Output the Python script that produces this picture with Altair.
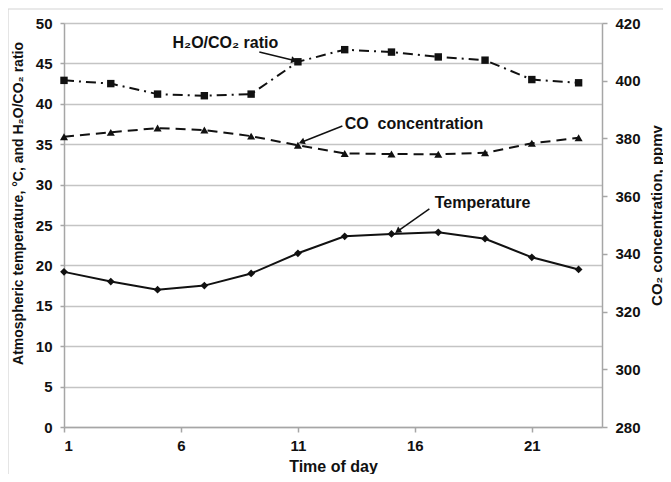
import math
import altair as alt
import pandas as pd

# ---- data ----
hours = [1, 3, 5, 7, 9, 11, 13, 15, 17, 19, 21, 23]
temperature = [19.2, 18.0, 17.0, 17.5, 19.0, 21.5, 23.6, 23.9, 24.1, 23.3, 21.0, 19.5]
h2o_co2_ratio = [42.9, 42.5, 41.2, 41.0, 41.2, 45.2, 46.7, 46.4, 45.8, 45.4, 43.0, 42.6]
co2_ppmv = [380.6, 382.1, 383.6, 382.9, 380.8, 377.6, 374.8, 374.6, 374.5, 375.0, 378.3, 380.2]

x_ticks = [1, 6, 11, 16, 21]
left_ticks = [0, 5, 10, 15, 20, 25, 30, 35, 40, 45, 50]
right_ticks = [280, 300, 320, 340, 360, 380, 400, 420]

# annotation labels (left-axis units) and arrows from label to point
ann_text = ["H\u2082O/CO\u2082 ratio", "CO\u00a0\u00a0concentration", "Temperature"]
ann_x = [7.9, 13.0, 16.85]
ann_y = [47.5, 37.5, 27.7]
ann_align = ["center", "left", "left"]
arrow_x = [9.35, 12.9, 16.62]
arrow_y = [46.4, 37.25, 27.0]
arrow_x2 = [10.8, 11.2, 15.3]
arrow_y2 = [45.4, 35.3, 24.3]

W, H = 538, 404
X_DOM = [1, 24]
YL_DOM = [0, 50]
YR_DOM = [280, 420]
FONT = "Liberation Sans"
INK = "#111111"

df = pd.DataFrame({"hour": hours, "temp": temperature, "ratio": h2o_co2_ratio, "co2": co2_ppmv})

px_per_x = W / (X_DOM[1] - X_DOM[0])
px_per_y = H / (YL_DOM[1] - YL_DOM[0])
angles = []
for a, b, c, d in zip(arrow_x, arrow_y, arrow_x2, arrow_y2):
    dx = (c - a) * px_per_x
    dy = -(d - b) * px_per_y
    angles.append((math.degrees(math.atan2(dx, -dy)) + 360) % 360)

ann_df = pd.DataFrame({"text": ann_text, "x": ann_x, "y": ann_y, "align": ann_align})
arr_df = pd.DataFrame({"x": arrow_x, "y": arrow_y, "x2": arrow_x2, "y2": arrow_y2, "angle": angles})

xs = alt.Scale(domain=X_DOM, nice=False, zero=False)
x_axis = alt.Axis(values=x_ticks, title="Time of day", grid=False, tickSize=5,
                  labelPadding=6, titlePadding=5, labelFontSize=15, titleFontSize=16)
yl = alt.Scale(domain=YL_DOM, nice=False)
yl_axis = alt.Axis(values=left_ticks, title="Atmospheric temperature, \u00b0C, and H\u2082O/CO\u2082 ratio",
                   grid=True, tickSize=4, labelPadding=8, labelFontSize=15, titleFontSize=14,
                   titleAngle=270, titleAlign="center", titleBaseline="middle",
                   titleX=-46, titleY=180)
yr = alt.Scale(domain=YR_DOM, nice=False, zero=False)
yr_axis = alt.Axis(values=right_ticks, title="CO\u2082 concentration, ppmv", orient="right",
                   grid=False, tickSize=5, labelPadding=8, labelFontSize=15, titleFontSize=15,
                   titleAngle=270, titleAlign="center", titleBaseline="middle",
                   titleX=54, titleY=192)

# light outer frame of the chart area: only its top and left edges fall inside the page
one = pd.DataFrame({"f": [0]})
frame_top = alt.Chart(one).mark_rule(stroke="#d4d4d4", strokeWidth=1.2, clip=False).encode(
    x=alt.value(-56), x2=alt.value(W + 61), y=alt.value(-14))
frame_left = alt.Chart(one).mark_rule(stroke="#d4d4d4", strokeWidth=1.2, clip=False).encode(
    x=alt.value(-56), y=alt.value(-14), y2=alt.value(H + 47))

base = alt.Chart(df)
X = alt.X("hour:Q", scale=xs, axis=x_axis)

temp_line = base.mark_line(color=INK, strokeWidth=2).encode(x=X, y=alt.Y("temp:Q", scale=yl, axis=yl_axis))
temp_pts = base.mark_point(shape="diamond", filled=True, color=INK, size=60, opacity=1).encode(
    x=X, y=alt.Y("temp:Q", scale=yl))
ratio_line = base.mark_line(color=INK, strokeWidth=2, strokeDash=[10, 5, 2, 5]).encode(
    x=X, y=alt.Y("ratio:Q", scale=yl))
ratio_pts = base.mark_point(shape="square", filled=True, color=INK, size=55, opacity=1).encode(
    x=X, y=alt.Y("ratio:Q", scale=yl))

ann_layers = []
for al in ["center", "left"]:
    ann_layers.append(
        alt.Chart(ann_df).transform_filter(alt.datum.align == al).mark_text(
            font=FONT, fontSize=16, fontWeight="bold", baseline="middle", align=al, color=INK
        ).encode(x=alt.X("x:Q", scale=xs), y=alt.Y("y:Q", scale=yl), text="text:N")
    )

arrows = alt.Chart(arr_df).mark_rule(color=INK, strokeWidth=1.5).encode(
    x=alt.X("x:Q", scale=xs), y=alt.Y("y:Q", scale=yl), x2="x2:Q", y2="y2:Q")
heads = alt.Chart(arr_df).mark_point(shape="triangle", filled=True, color=INK, size=50, opacity=1).encode(
    x=alt.X("x2:Q", scale=xs), y=alt.Y("y2:Q", scale=yl), angle=alt.Angle("angle:Q", scale=None))

left = alt.layer(frame_top, frame_left, temp_line, temp_pts, ratio_line, ratio_pts, arrows, heads, *ann_layers)

co_line = base.mark_line(color=INK, strokeWidth=2, strokeDash=[10, 6]).encode(
    x=X, y=alt.Y("co2:Q", scale=yr, axis=yr_axis))
co_pts = base.mark_point(shape="triangle-up", filled=True, color=INK, size=65, opacity=1).encode(
    x=X, y=alt.Y("co2:Q", scale=yr))
right = alt.layer(co_line, co_pts)

chart = alt.layer(left, right).resolve_scale(y="independent").properties(
    width=W, height=H,
    autosize=alt.AutoSizeParams(type="none"),
    padding={"left": 56, "top": 15, "right": 61, "bottom": 47},
).configure_view(stroke=None).configure_axis(
    labelFont=FONT, titleFont=FONT, labelFontWeight="bold", titleFontWeight="bold",
    labelColor=INK, titleColor=INK, domainColor="#a6a6a6", domainWidth=1.5,
    tickColor="#a6a6a6", tickWidth=1.5, gridColor="#c4c4c4", gridWidth=1.5,
)

chart.save("out.html", embed_options={"renderer": "svg", "actions": False})
